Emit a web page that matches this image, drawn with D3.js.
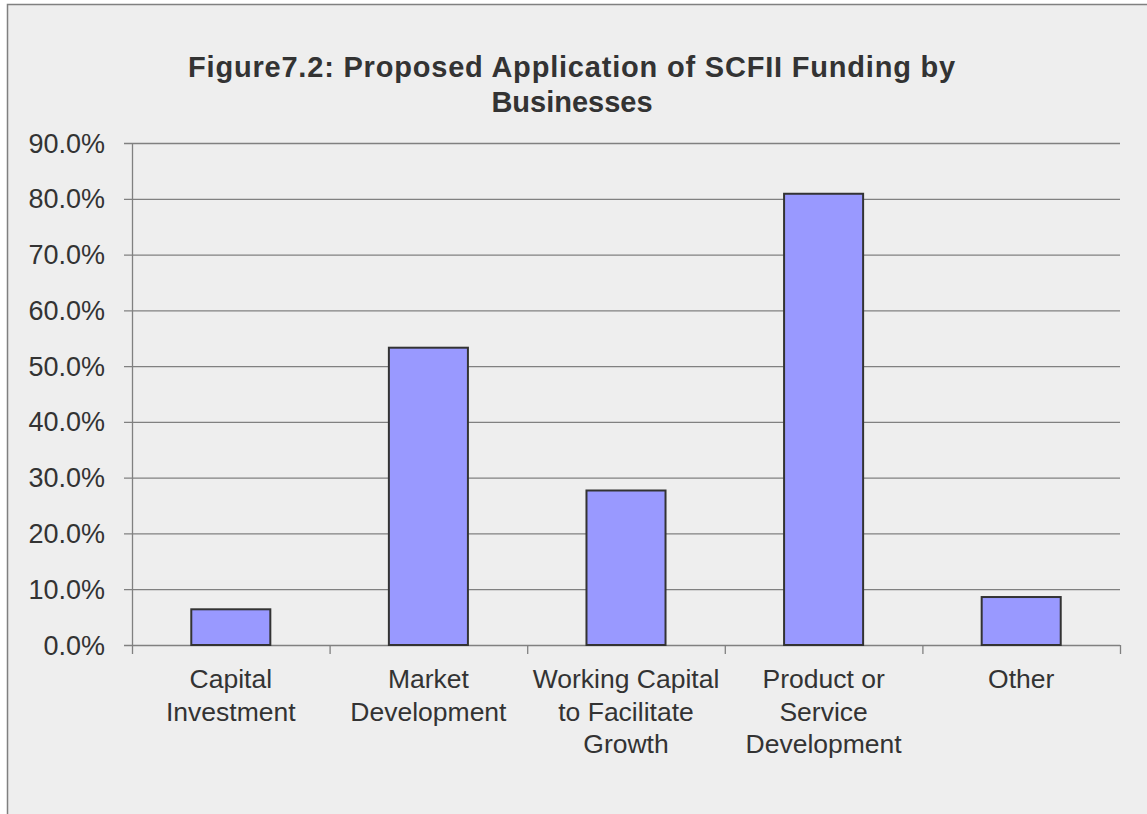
<!DOCTYPE html>
<html><head><meta charset="utf-8">
<script src="https://cdn.jsdelivr.net/npm/d3@7"></script>
<style>body{margin:0;background:#fff}svg{display:block}</style>
</head><body>
<script>
const categories = [["Capital","Investment"],["Market","Development"],["Working Capital","to Facilitate","Growth"],["Product or","Service","Development"],["Other"]];
const values = [6.4, 53.3, 27.7, 80.9, 8.6];
const yTicks = [0,10,20,30,40,50,60,70,80,90];
const titleLines = ["Figure7.2: Proposed Application of SCFII Funding by","Businesses"];

const W=1147,H=814;
const svg=d3.select("body").append("svg").attr("width",W).attr("height",H);
svg.append("rect").attr("x",7.5).attr("y",4.5).attr("width",W).attr("height",H).attr("fill","#eeeeee").attr("stroke","#808080").attr("stroke-width",1.5);

const m={l:132,r:1120,t:143,b:645};
const x=d3.scaleBand().domain(d3.range(categories.length)).range([m.l,m.r]).paddingInner(0.6).paddingOuter(0.3);
const xb=d3.scaleBand().domain(d3.range(categories.length)).range([m.l,m.r]);
const y=d3.scaleLinear().domain([0,90]).range([m.b,m.t]);
const font="'Liberation Sans', Arial, sans-serif";
const col="#333";

// gridlines
svg.append("g").selectAll("line").data(yTicks).join("line")
 .attr("x1",m.l-8).attr("x2",m.r).attr("y1",d=>y(d)+0.5).attr("y2",d=>y(d)+0.5)
 .attr("stroke","#808080").attr("stroke-width",1.3);
// y labels
svg.append("g").selectAll("text").data(yTicks).join("text")
 .attr("x",105).attr("y",d=>y(d)+9.5).attr("text-anchor","end")
 .attr("font-family",font).attr("font-size",27).attr("fill",col).text(d=>d3.format(".1f")(d)+"%");
// y axis
svg.append("line").attr("x1",m.l+0.5).attr("x2",m.l+0.5).attr("y1",m.t).attr("y2",m.b+9).attr("stroke","#808080").attr("stroke-width",1.3);
// x ticks
svg.append("g").selectAll("line").data(d3.range(categories.length)).join("line")
 .attr("x1",d=>xb(d)+xb.bandwidth()+0.5).attr("x2",d=>xb(d)+xb.bandwidth()+0.5).attr("y1",m.b).attr("y2",m.b+9)
 .attr("stroke","#808080").attr("stroke-width",1.3);
// bars
svg.append("g").selectAll("rect").data(values).join("rect")
 .attr("x",(d,i)=>x(i)).attr("width",x.bandwidth()).attr("y",d=>y(d)).attr("height",d=>m.b-y(d))
 .attr("fill","#9999ff").attr("stroke","#333").attr("stroke-width",2);
// x labels
const xl=svg.append("g").selectAll("text").data(categories).join("text")
 .attr("text-anchor","middle").attr("font-family",font).attr("font-size",26.5).attr("fill",col);
xl.each(function(d,i){
  d3.select(this).selectAll("tspan").data(d).join("tspan")
   .attr("x",xb(i)+xb.bandwidth()/2).attr("y",(t,j)=>688+j*32.5).text(t=>t);
});
// title
svg.append("g").selectAll("text").data(titleLines).join("text")
 .attr("x",572).attr("y",(d,i)=>77+i*35).attr("text-anchor","middle")
 .attr("letter-spacing",(d,i)=>i===0?"0.8px":"0px")
 .attr("font-family",font).attr("font-weight","bold").attr("font-size",29).attr("fill",col).text(d=>d);
</script>
</body></html>
